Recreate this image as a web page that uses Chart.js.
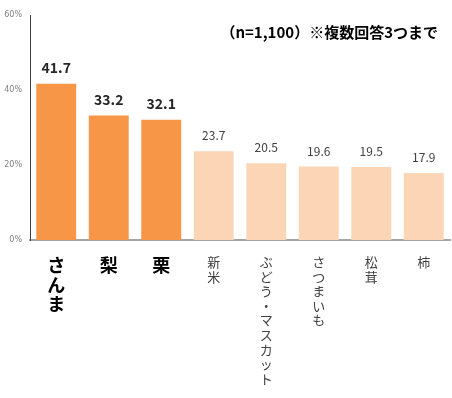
<!DOCTYPE html>
<html>
<head>
<meta charset="utf-8">
<script src="https://cdn.jsdelivr.net/npm/chart.js@4/dist/chart.umd.min.js"></script>
<style>
  html, body { margin: 0; padding: 0; background: #fff; }
  #wrap { width: 452px; height: 398px; }
</style>
</head>
<body>
<div id="wrap"><canvas id="autumnChart"></canvas></div>
<script>
const categories = ['さんま', '梨', '栗', '新米', 'ぶどう・マスカット', 'さつまいも', '松茸', '柿'];
const percentages = [41.7, 33.2, 32.1, 23.7, 20.5, 19.6, 19.5, 17.9];
const yTicks = [0, 20, 40, 60];
const noteText = '（n=1,100）※複数回答3つまで';

const jpFont = '"Noto Sans CJK JP", "Noto Sans", sans-serif';
const topCount = 3;

// one character per line so labels stack vertically
const stackedLabels = categories.map(name => Array.from(name));

const barColors = percentages.map((v, i) => i < topCount ? '#F79646' : '#FBD5B5');

const valueLabels = {
    id: 'valueLabels',
    afterDatasetsDraw(chart) {
        const ctx = chart.ctx;
        const meta = chart.getDatasetMeta(0);
        ctx.save();
        ctx.textAlign = 'center';
        ctx.textBaseline = 'alphabetic';
        meta.data.forEach((bar, i) => {
            const top = i < topCount;
            ctx.font = (top ? 'bold 14px ' : '12px ') + jpFont;
            ctx.fillStyle = top ? '#262626' : '#404040';
            ctx.fillText(percentages[i].toFixed(1), bar.x, bar.y - 11);
        });
        // sample size note
        ctx.font = 'bold 15px ' + jpFont;
        ctx.fillStyle = '#000';
        ctx.textAlign = 'right';
        ctx.fillText(noteText, 438, 38);
        ctx.restore();
    }
};

const ctx = document.getElementById('autumnChart');
const myChart = new Chart(ctx, {
    type: 'bar',
    data: {
        labels: stackedLabels,
        datasets: [{
            data: percentages,
            backgroundColor: barColors,
            borderWidth: 0,
            categoryPercentage: 1,
            barPercentage: 0.76
        }]
    },
    options: {
        responsive: true,
        maintainAspectRatio: false,
        animation: false,
        layout: { padding: { top: 15, right: 2, left: 0, bottom: 0 } },
        plugins: {
            legend: { display: false },
            tooltip: { enabled: false }
        },
        scales: {
            x: {
                grid: { display: false, drawTicks: false },
                border: { color: '#A6A6A6', width: 2 },
                ticks: {
                    maxRotation: 0,
                    autoSkip: false,
                    padding: 15,
                    color: (c) => c.index < topCount ? '#000' : '#404040',
                    font: (c) => c.index < topCount
                        ? { family: jpFont, size: 18, weight: 'bold', lineHeight: 1.1 }
                        : { family: jpFont, size: 13, weight: 'normal', lineHeight: 1.12 }
                },
                afterFit(scale) { scale.height = 158; }
            },
            y: {
                min: yTicks[0],
                max: yTicks[yTicks.length - 1],
                afterBuildTicks(scale) { scale.ticks = yTicks.map(v => ({ value: v })); },
                grid: { display: false, drawTicks: false },
                border: { color: '#404040', width: 1 },
                ticks: {
                    padding: 8,
                    color: '#7F7F7F',
                    font: { family: '"DejaVu Sans", sans-serif', size: 8 },
                    callback: (v) => v + '%'
                },
                afterFit(scale) { scale.width = 30; }
            }
        }
    },
    plugins: [valueLabels]
});
</script>
</body>
</html>
